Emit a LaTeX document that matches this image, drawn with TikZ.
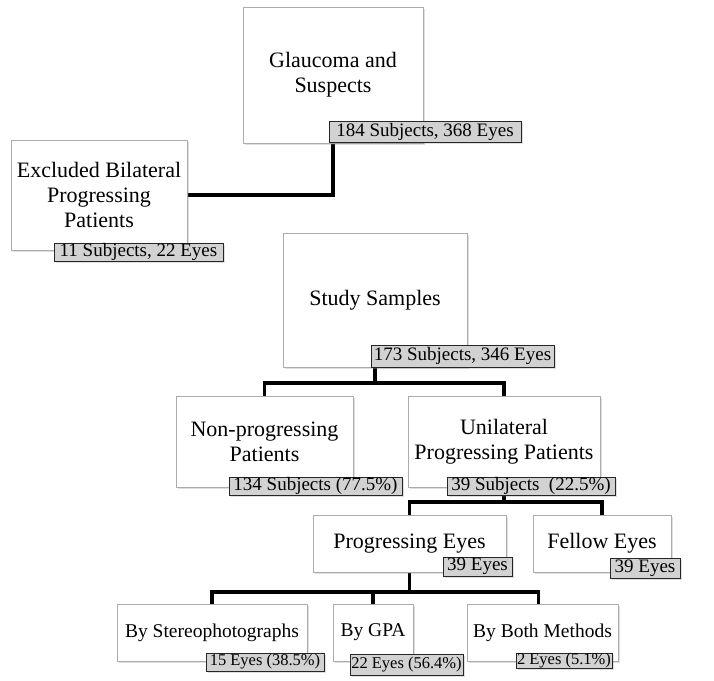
\documentclass[tikz,border=0pt]{standalone}
\usepackage{fontspec}
\setmainfont{Liberation Serif}
\usetikzlibrary{shadows,backgrounds}
\tikzset{box/.style={draw=gray!65, fill=white, line width=0.8pt, align=center,
        font=\fontsize{22}{25}\selectfont,
        drop shadow={shadow xshift=2pt, shadow yshift=-2pt, opacity=0.25}},
    smallbox/.style={box, font=\fontsize{19.5}{22}\selectfont},
    count/.style={draw=black!85, fill=gray!35, line width=1pt,
        font=\fontsize{19}{20}\selectfont,
        drop shadow={shadow xshift=1.5pt, shadow yshift=-1.5pt, opacity=0.25}},
    smallcount/.style={count, font=\fontsize{16.5}{18}\selectfont},
    branch/.style={line width=3.5pt}
}

\begin{document}
\begin{tikzpicture}[x=1pt,y=-1pt,every node/.style={inner sep=0,outer sep=0}]
\useasboundingbox (0,0) rectangle (714,680);
% Glaucoma
\node[box,minimum width=180pt,minimum height=136pt] (glaucoma) at (333,75) {Glaucoma and\\Suspects};
\node[count,minimum width=192pt,minimum height=21pt] (glaucomaN) at (425,131.5) {184 Subjects, 368 Eyes};
% Excluded
\node[box,minimum width=176pt,minimum height=110pt] (excluded) at (99,195) {Excluded Bilateral\\Progressing\\Patients};
\node[count,minimum width=169pt,minimum height=18pt] (excludedN) at (138.5,252) {11 Subjects, 22 Eyes};
% Study
\node[box,minimum width=184pt,minimum height=134pt] (study) at (375,300) {Study Samples};
\node[count,minimum width=183pt,minimum height=22pt] (studyN) at (462.5,356) {173 Subjects, 346 Eyes};
% Patients
\node[box,minimum width=177pt,minimum height=91pt] (nonprog) at (264.5,441.5) {Non-progressing\\Patients};
\node[count,minimum width=173pt,minimum height=18pt] (nonprogN) at (315.5,486) {134 Subjects (77.5\%)};
\node[box,minimum width=192pt,minimum height=91pt] (unilat) at (504,441.5) {Unilateral\\Progressing Patients};
\node[count,minimum width=168pt,minimum height=18pt] (unilatN) at (531,486) {39 Subjects\ \ (22.5\%)};
% Eyes
\node[box,minimum width=193pt,minimum height=57pt] (progeyes) at (409.5,543.5) {Progressing Eyes};
\node[count,minimum width=69pt,minimum height=19pt] (progeyesN) at (477.5,566.5) {39 Eyes};
\node[box,minimum width=138pt,minimum height=57pt] (fellow) at (602,543.5) {Fellow Eyes};
\node[count,minimum width=70pt,minimum height=20pt] (fellowN) at (645,568) {39 Eyes};
% Methods
\node[smallbox,minimum width=190pt,minimum height=57pt] (stereo) at (212,632.5) {By Stereophotographs};
\node[smallcount,minimum width=118pt,minimum height=18pt] (stereoN) at (265,662) {15 Eyes (38.5\%)};
\node[smallbox,minimum width=80pt,minimum height=57pt] (gpa) at (373,632.5) {By GPA};
\node[smallcount,minimum width=113pt,minimum height=21pt] (gpaN) at (406.5,664.5) {22 Eyes (56.4\%)};
\node[smallbox,minimum width=151pt,minimum height=57pt] (both) at (542.5,632.5) {By Both Methods};
\node[smallcount,minimum width=96pt,minimum height=13pt] (bothN) at (564,661) {2 Eyes (5.1\%)};
% Lines
\begin{scope}[on background layer]
\coordinate (fork1) at (375,383);
\coordinate (fork2) at (504,502);
\coordinate (fork3) at (409.5,592);
\draw[branch] (glaucoma.south) |- (excluded.east);
\draw[branch] (study.south) -- (fork1);
\draw[branch] (nonprog.north) |- (fork1) -| (unilat.north);
\draw[branch] (unilat.south) -- (fork2);
\draw[branch] (progeyes.north) |- (fork2) -| (fellow.north);
\draw[branch] (progeyes.south) -- (fork3);
\draw[branch] (stereo.north) |- (fork3) -| ([xshift=-4pt]both.north);
\draw[branch] (gpa.north) -- (gpa.north |- fork3);
\end{scope}
\end{tikzpicture}
\end{document}
